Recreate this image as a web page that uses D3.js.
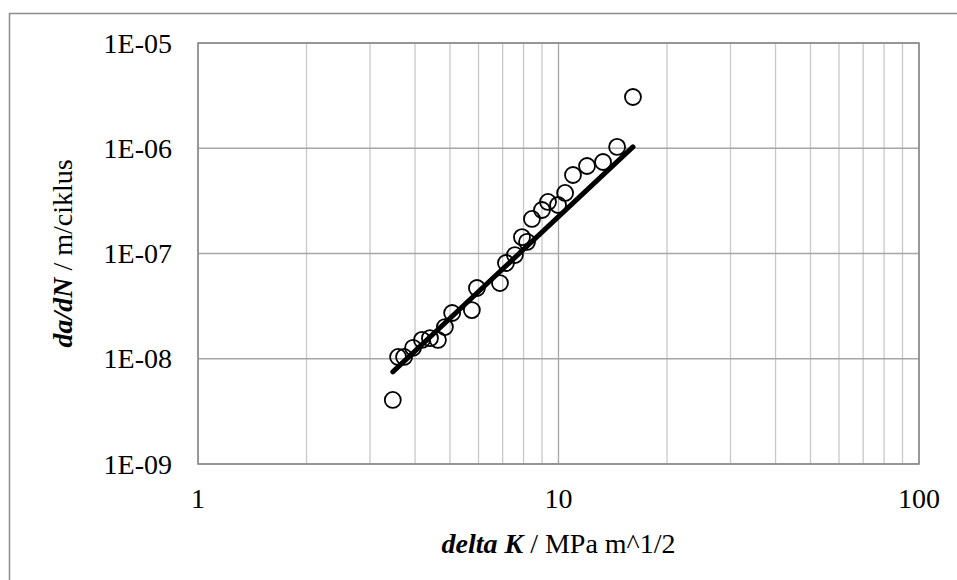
<!DOCTYPE html>
<html>
<head>
<meta charset="utf-8">
<script src="https://cdn.jsdelivr.net/npm/d3@7"></script>
<style>
  body { margin: 0; background: #fff; }
  svg { display: block; font-family: "Liberation Serif", "Times New Roman", serif; }
</style>
</head>
<body>
<svg id="chart" width="957" height="580"></svg>
<script>
// measured points: delta K (MPa m^1/2) and da/dN (m/cycle)
var deltaK = [3.47, 3.59, 3.73, 3.95, 4.18, 4.40, 4.63, 4.84, 5.07, 5.75, 5.94,
    6.88, 7.15, 7.57, 7.92, 8.18, 8.44, 9.00, 9.35, 9.97, 10.43, 10.97,
    12.0, 13.29, 14.54, 16.09];
var dadN = [4.06e-9, 1.04e-8, 1.04e-8, 1.27e-8, 1.51e-8, 1.57e-8, 1.51e-8, 2.0e-8,
    2.72e-8, 2.9e-8, 4.7e-8, 5.24e-8, 8.12e-8, 9.67e-8, 1.43e-7, 1.29e-7,
    2.13e-7, 2.59e-7, 3.09e-7, 2.89e-7, 3.76e-7, 5.57e-7, 6.78e-7, 7.4e-7,
    1.03e-6, 3.07e-6];

// fitted trend line ends
var trendK = [3.47, 16.09];
var trendRate = [7.5e-9, 1.03e-6];

var xTicks = [1, 10, 100];
var yTicks = [1e-9, 1e-8, 1e-7, 1e-6, 1e-5];
var yTickLabels = ["1E-09", "1E-08", "1E-07", "1E-06", "1E-05"];

var svg = d3.select("#chart");

var pLeft = 198, pRight = 919, pTop = 43, pBottom = 464;

var x = d3.scaleLog().domain([1, 100]).range([pLeft, pRight]);
var y = d3.scaleLog().domain([1e-9, 1e-5]).range([pBottom, pTop]);

// outer chart frame (runs off the right and bottom edges)
svg.append("rect")
    .attr("x", 9.5).attr("y", 13.5)
    .attr("width", 1000).attr("height", 1000)
    .attr("fill", "none")
    .attr("stroke", "#8c8c8c")
    .attr("stroke-width", 1.5);

// minor x grid
var minor = [];
[1, 10].forEach(function(d) {
    for (var i = 2; i <= 9; i++) minor.push(d * i);
});

svg.append("g").selectAll("line")
    .data(minor)
    .enter().append("line")
    .attr("x1", function(d) { return x(d); })
    .attr("x2", function(d) { return x(d); })
    .attr("y1", pTop).attr("y2", pBottom)
    .attr("stroke", "#c8c8c8")
    .attr("stroke-width", 1.3);

// major grid
svg.append("g").selectAll("line")
    .data(xTicks)
    .enter().append("line")
    .attr("x1", function(d) { return x(d); })
    .attr("x2", function(d) { return x(d); })
    .attr("y1", pTop).attr("y2", pBottom)
    .attr("stroke", "#a6a6a6")
    .attr("stroke-width", 1.3);

svg.append("g").selectAll("line")
    .data(yTicks)
    .enter().append("line")
    .attr("x1", pLeft).attr("x2", pRight)
    .attr("y1", function(d) { return y(d); })
    .attr("y2", function(d) { return y(d); })
    .attr("stroke", "#a6a6a6")
    .attr("stroke-width", 1.3);

// plot border
svg.append("rect")
    .attr("x", pLeft).attr("y", pTop)
    .attr("width", pRight - pLeft).attr("height", pBottom - pTop)
    .attr("fill", "none")
    .attr("stroke", "#898989")
    .attr("stroke-width", 1.5);

// tick labels
svg.append("g").selectAll("text")
    .data(xTicks)
    .enter().append("text")
    .attr("x", function(d) { return x(d); })
    .attr("y", 508)
    .attr("text-anchor", "middle")
    .attr("font-size", 28)
    .text(function(d) { return d; });

svg.append("g").selectAll("text")
    .data(yTicks)
    .enter().append("text")
    .attr("x", 172)
    .attr("y", function(d) { return y(d); })
    .attr("dy", "0.34em")
    .attr("text-anchor", "end")
    .attr("font-size", 28)
    .text(function(d, i) { return yTickLabels[i]; });

// trend line
var line = d3.line()
    .x(function(d) { return x(d[0]); })
    .y(function(d) { return y(d[1]); });

svg.append("path")
    .datum(d3.zip(trendK, trendRate))
    .attr("d", line)
    .attr("fill", "none")
    .attr("stroke", "#000")
    .attr("stroke-width", 5)
    .attr("stroke-linecap", "round");

// points
svg.append("g").selectAll("circle")
    .data(d3.zip(deltaK, dadN))
    .enter().append("circle")
    .attr("cx", function(d) { return x(d[0]); })
    .attr("cy", function(d) { return y(d[1]); })
    .attr("r", 8)
    .attr("fill", "none")
    .attr("stroke", "#000")
    .attr("stroke-width", 1.8);

// axis titles
var xt = svg.append("text")
    .attr("x", (pLeft + pRight) / 2)
    .attr("y", 553)
    .attr("text-anchor", "middle")
    .attr("font-size", 28);
xt.append("tspan").attr("font-weight", "bold").attr("font-style", "italic").text("delta K");
xt.append("tspan").text(" / MPa m^1/2");

var yt = svg.append("text")
    .attr("transform", "translate(72," + ((pTop + pBottom) / 2) + ") rotate(-90)")
    .attr("text-anchor", "middle")
    .attr("font-size", 28);
yt.append("tspan").attr("font-weight", "bold").attr("font-style", "italic").text("da/dN");
yt.append("tspan").text(" / m/ciklus");
</script>
</body>
</html>
